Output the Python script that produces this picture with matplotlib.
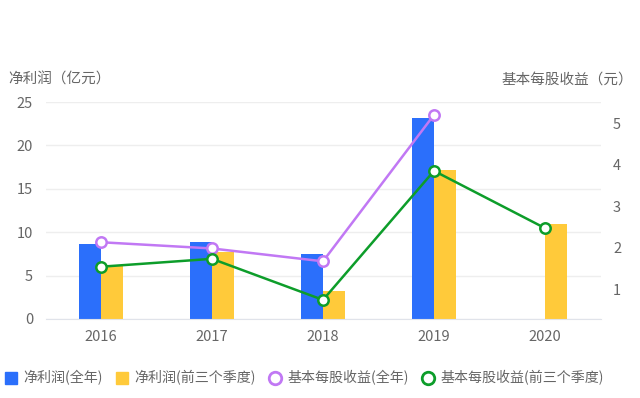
import matplotlib
matplotlib.use("Agg")
import matplotlib.pyplot as plt
from matplotlib.lines import Line2D
import numpy as np

plt.rcParams['font.family'] = ['Noto Sans CJK SC', 'DejaVu Sans']

years = ['2016', '2017', '2018', '2019', '2020']
profit_full = [8.6, 8.9, 7.45, 23.2, None]
profit_q3 = [6.1, 7.75, 3.2, 17.2, 11.0]
eps_full = [2.13, 1.98, 1.67, 5.2, None]
eps_q3 = [1.54, 1.73, 0.74, 3.85, 2.47]

left_ticks = [0, 5, 10, 15, 20, 25]
right_ticks = [1, 2, 3, 4, 5]

c_blue = '#2b6ffb'
c_yellow = '#ffca3a'
c_purple = '#c178f4'
c_green = '#0d9d2a'
c_text = '#666666'

fig = plt.figure(figsize=(6.4, 3.98), dpi=100)
ax = fig.add_axes([45.5/640, 1-319/398, 555/640, 217/398])
ax2 = ax.twinx()

x = np.arange(len(years))
w = 0.194
xb = [xi for xi, v in zip(x, profit_full) if v is not None]
vb = [v for v in profit_full if v is not None]
ax.bar(np.array(xb) - w/2, vb, width=w, color=c_blue, zorder=2)
ax.bar(x + w/2, profit_q3, width=w, color=c_yellow, zorder=2)

ax.set_xlim(-0.5, len(years) - 0.5)
ax.set_ylim(0, 25)
ax.set_yticks(left_ticks)
ax.set_xticks(x)
ax.set_xticklabels(years)
ax.grid(axis='y', color='#eeeeee', linewidth=1, zorder=0)
ax.set_axisbelow(True)
for s in ['top', 'right', 'left']:
    ax.spines[s].set_visible(False)
ax.spines['bottom'].set_color('#e0e3ea')
ax.tick_params(axis='both', length=0, colors=c_text, labelsize=10.5)
ax.tick_params(axis='x', pad=8)
ax.tick_params(axis='y', pad=9)

ef_x = [xi for xi, v in zip(x, eps_full) if v is not None]
ef_v = [v for v in eps_full if v is not None]
ax2.plot(ef_x, ef_v, color=c_purple, lw=1.8, marker='o', ms=7.5,
         mfc='white', mec=c_purple, mew=1.8, zorder=3)
ax2.plot(x, eps_q3, color=c_green, lw=1.8, marker='o', ms=7.5,
         mfc='white', mec=c_green, mew=1.8, zorder=3)
ax2.set_ylim(0.28, 5.51)
ax2.set_yticks(right_ticks)
for s in ['top', 'right', 'left', 'bottom']:
    ax2.spines[s].set_visible(False)
ax2.tick_params(axis='y', length=0, colors=c_text, labelsize=10.5, pad=9)

fig.text(8/640, 1-80/398, '净利润（亿元）', fontsize=10.5, color=c_text, va='center', ha='left')
fig.text(633/640, 1-80/398, '基本每股收益（元）', fontsize=10.5, color=c_text, va='center', ha='right')

handles = [
    Line2D([], [], ls='none', marker='s', ms=9, mfc=c_blue, mec=c_blue),
    Line2D([], [], ls='none', marker='s', ms=9, mfc=c_yellow, mec=c_yellow),
    Line2D([], [], ls='none', marker='o', ms=9, mfc='white', mec=c_purple, mew=2),
    Line2D([], [], ls='none', marker='o', ms=9, mfc='white', mec=c_green, mew=2),
]
labels = ['净利润(全年)', '净利润(前三个季度)', '基本每股收益(全年)', '基本每股收益(前三个季度)']
leg = fig.legend(handles, labels, loc='center', bbox_to_anchor=(0.475, 1-378/398), ncol=4,
                 frameon=False, fontsize=10.1, handlelength=1.0, handletextpad=0.35,
                 columnspacing=0.9, labelcolor=c_text)

fig.savefig('out.png', dpi=100)
